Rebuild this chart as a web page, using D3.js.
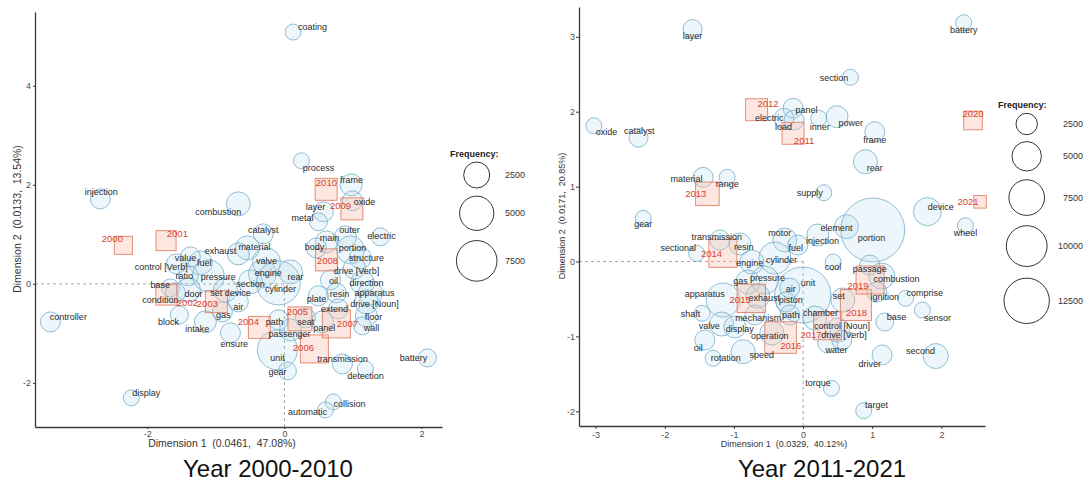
<!DOCTYPE html>
<html>
<head>
<meta charset="utf-8">
<script src="https://cdn.jsdelivr.net/npm/d3@7"></script>
<style>
  body { margin: 0; background: #fff; }
  svg text { font-family: "Liberation Sans", Arial, sans-serif; }
</style>
</head>
<body>
<svg id="chart" width="1088" height="484"></svg>
<script>
// Correspondence-analysis maps of patent terms and filing years.
// Term rows: [term, dim1, dim2, frequency, label dim1, label dim2]
const termsEarly = [
  ["coating", 0.127, 5.085, 625, 0.409, 5.19],
  ["process", 0.248, 2.485, 625, 0.496, 2.343],
  ["injection", -2.686, 1.717, 1225, -2.672, 1.859],
  ["combustion", -0.672, 1.616, 2025, -0.964, 1.455],
  ["frame", 0.974, 2.0, 1600, 0.978, 2.101],
  ["oxide", 0.993, 1.677, 1225, 1.168, 1.657],
  ["layer", 0.569, 1.455, 1225, 0.453, 1.556],
  ["metal", 0.496, 1.253, 900, 0.263, 1.333],
  ["catalyst", -0.307, 1.010, 1225, -0.307, 1.091],
  ["material", -0.540, 0.727, 2025, -0.438, 0.747],
  ["exhaust", -0.672, 0.606, 1600, -0.934, 0.667],
  ["valve", -0.263, 0.444, 3025, -0.263, 0.465],
  ["engine", -0.321, 0.202, 3025, -0.234, 0.222],
  ["section", -0.496, 0.040, 2025, -0.496, 0.0],
  ["rear", 0.088, 0.242, 2025, 0.161, 0.141],
  ["cylinder", -0.088, 0.020, 9025, -0.058, -0.101],
  ["fuel", -1.226, 0.424, 2025, -1.168, 0.424],
  ["value", -1.372, 0.545, 1225, -1.445, 0.525],
  ["control [Verb]", -1.577, 0.404, 1225, -1.796, 0.343],
  ["ratio", -1.401, 0.162, 1225, -1.460, 0.162],
  ["pressure", -1.109, 0.162, 4225, -0.964, 0.141],
  ["base", -1.664, -0.081, 900, -1.810, -0.020],
  ["condition", -1.591, -0.182, 1225, -1.810, -0.323],
  ["door", -1.401, -0.121, 2025, -1.328, -0.202],
  ["set device", -0.861, -0.121, 2025, -0.788, -0.182],
  ["air", -0.672, -0.364, 1225, -0.672, -0.465],
  ["gas", -0.905, -0.566, 1225, -0.891, -0.626],
  ["block", -1.533, -0.626, 900, -1.693, -0.768],
  ["intake", -1.153, -0.768, 1600, -1.270, -0.909],
  ["controller", -3.416, -0.768, 1225, -3.153, -0.667],
  ["display", -2.234, -2.303, 625, -2.015, -2.202],
  ["ensure", -0.788, -0.990, 1225, -0.730, -1.212],
  ["path", -0.088, -0.727, 1225, -0.146, -0.768],
  ["passenger", 0.088, -0.929, 1600, 0.073, -1.010],
  ["seat", 0.307, -0.687, 1225, 0.310, -0.768],
  ["panel", 0.555, -0.768, 1600, 0.580, -0.889],
  ["unit", -0.102, -1.333, 7225, -0.102, -1.495],
  ["gear", 0.044, -1.758, 900, -0.102, -1.778],
  ["transmission", 0.847, -1.616, 1225, 0.847, -1.515],
  ["detection", 1.182, -1.717, 625, 1.182, -1.859],
  ["battery", 2.088, -1.495, 900, 1.883, -1.495],
  ["collision", 0.715, -2.384, 625, 0.949, -2.424],
  ["automatic", 0.599, -2.545, 625, 0.336, -2.586],
  ["outer", 0.891, 0.949, 1600, 0.949, 1.091],
  ["main", 0.613, 0.848, 1600, 0.657, 0.929],
  ["body", 0.467, 0.727, 1225, 0.438, 0.747],
  ["portion", 0.964, 0.687, 3025, 0.993, 0.727],
  ["electric", 1.401, 0.949, 900, 1.416, 0.970],
  ["structure", 1.109, 0.525, 1600, 1.197, 0.525],
  ["drive [Verb]", 1.022, 0.323, 1600, 1.051, 0.263],
  ["oil", 0.672, 0.081, 1225, 0.715, 0.061],
  ["direction", 1.139, 0.020, 2025, 1.197, 0.020],
  ["resin", 0.759, -0.182, 1225, 0.803, -0.202],
  ["apparatus", 1.255, -0.182, 2025, 1.314, -0.182],
  ["plate", 0.496, -0.242, 1225, 0.467, -0.303],
  ["drive [Noun]", 1.197, -0.364, 2025, 1.314, -0.404],
  ["extend", 0.788, -0.505, 1225, 0.730, -0.505],
  ["floor", 1.197, -0.646, 1600, 1.299, -0.667],
  ["wall", 1.139, -0.848, 900, 1.270, -0.889]
];

// Year rows: [year, dim1, dim2, frequency, label dim1, label dim2]
const yearsEarly = [
  ["2000", -2.350, 0.778, 1300, -2.511, 0.909],
  ["2001", -1.727, 0.873, 1720, -1.562, 1.010],
  ["2002", -1.723, -0.216, 1960, -1.416, -0.384],
  ["2003", -0.993, -0.358, 2210, -1.124, -0.404],
  ["2004", -0.365, -0.879, 2210, -0.526, -0.768],
  ["2005", 0.226, -0.707, 2760, 0.190, -0.566],
  ["2006", 0.438, -1.313, 4100, 0.277, -1.293],
  ["2007", 0.759, -0.808, 4100, 0.920, -0.808],
  ["2008", 0.613, 0.485, 2210, 0.628, 0.465],
  ["2009", 0.985, 1.515, 2210, 0.818, 1.576],
  ["2010", 0.609, 1.909, 2210, 0.613, 2.040]
];

const termsLate = [
  ["layer", -1.598, 3.104, 1920, -1.598, 3.015],
  ["panel", -0.145, 2.045, 2152, 0.049, 2.023],
  ["electric", -0.275, 1.912, 2152, -0.491, 1.920],
  ["load", -0.130, 1.889, 2152, -0.283, 1.796],
  ["inner", 0.227, 1.912, 1302, 0.241, 1.800],
  ["power", 0.491, 1.933, 2657, 0.689, 1.845],
  ["frame", 1.036, 1.733, 2152, 1.036, 1.622],
  ["section", 0.685, 2.459, 1302, 0.448, 2.454],
  ["battery", 2.322, 3.188, 1302, 2.322, 3.091],
  ["rear", 0.902, 1.332, 3215, 1.036, 1.244],
  ["supply", 0.299, 0.919, 1302, 0.097, 0.911],
  ["device", 1.798, 0.665, 4490, 1.990, 0.732],
  ["oxide", -3.025, 1.813, 1302, -2.841, 1.725],
  ["catalyst", -2.379, 1.653, 1920, -2.370, 1.742],
  ["material", -1.445, 1.124, 2152, -1.685, 1.105],
  ["range", -1.098, 1.124, 1302, -1.098, 1.031],
  ["gear", -2.312, 0.577, 1302, -2.312, 0.501],
  ["sectional", -1.540, 0.109, 1302, -1.806, 0.176],
  ["transmission", -1.204, 0.287, 2152, -1.247, 0.327],
  ["resin", -0.915, 0.234, 2657, -0.857, 0.194],
  ["apparatus", -1.156, -0.514, 6802, -1.421, -0.434],
  ["shaft", -1.460, -0.692, 1302, -1.627, -0.701],
  ["valve", -1.179, -0.834, 3215, -1.358, -0.857],
  ["display", -0.987, -0.874, 2657, -0.915, -0.901],
  ["oil", -1.421, -1.048, 2152, -1.517, -1.151],
  ["rotation", -1.301, -1.292, 1302, -1.117, -1.288],
  ["speed", -0.867, -1.204, 3215, -0.597, -1.248],
  ["motor", -0.264, 0.287, 3215, -0.337, 0.377],
  ["fuel", -0.077, 0.220, 2152, -0.105, 0.184],
  ["injection", 0.212, 0.354, 2657, 0.280, 0.274],
  ["element", 0.627, 0.465, 3215, 0.483, 0.443],
  ["portion", 1.007, 0.421, 25500, 0.988, 0.310],
  ["cylinder", -0.409, 0.047, 5978, -0.312, 0.020],
  ["engine", -0.741, -0.007, 3215, -0.770, -0.016],
  ["cool", 0.434, -0.007, 1302, 0.434, -0.069],
  ["passage", 0.964, -0.047, 2152, 0.964, -0.100],
  ["combustion", 1.137, -0.194, 3826, 1.350, -0.234],
  ["ignition", 1.065, -0.407, 2152, 1.181, -0.470],
  ["set", 0.574, -0.514, 3215, 0.516, -0.461],
  ["unit", -0.004, -0.447, 19370, 0.072, -0.283],
  ["gas", -0.799, -0.274, 3215, -0.905, -0.260],
  ["pressure", -0.553, -0.247, 4490, -0.514, -0.216],
  ["air", -0.192, -0.354, 2152, -0.178, -0.371],
  ["piston", -0.250, -0.541, 2152, -0.178, -0.514],
  ["exhaust", -0.655, -0.461, 3215, -0.560, -0.491],
  ["mechanism", -0.698, -0.714, 2152, -0.650, -0.758],
  ["path", -0.192, -0.714, 2152, -0.178, -0.714],
  ["chamber", 0.169, -0.754, 3215, 0.251, -0.684],
  ["operation", -0.452, -0.955, 3215, -0.481, -0.995],
  ["control [Noun]", 0.501, -0.915, 3215, 0.564, -0.861],
  ["drive [Verb]", 0.559, -1.048, 2152, 0.590, -0.981],
  ["water", 0.357, -1.088, 2152, 0.483, -1.182],
  ["base", 1.181, -0.808, 1700, 1.350, -0.737],
  ["driver", 1.142, -1.248, 2152, 0.964, -1.369],
  ["second", 1.918, -1.262, 3514, 1.697, -1.191],
  ["comprise", 1.484, -0.491, 1302, 1.759, -0.425],
  ["sensor", 1.725, -0.648, 1302, 1.942, -0.758],
  ["wheel", 2.347, 0.478, 1302, 2.347, 0.385],
  ["torque", 0.410, -1.693, 1302, 0.217, -1.626],
  ["target", 0.877, -1.992, 1302, 1.061, -1.916]
];

const yearsLate = [
  ["2011", -0.145, 1.712, 3450, 0.014, 1.613],
  ["2012", -0.673, 2.027, 3450, -0.506, 2.112],
  ["2013", -1.384, 0.904, 4020, -1.551, 0.911],
  ["2014", -1.160, 0.109, 5820, -1.324, 0.109],
  ["2015", -0.749, -0.491, 5980, -0.910, -0.514],
  ["2016", -0.325, -1.015, 7500, -0.178, -1.124],
  ["2017", 0.354, -0.858, 5820, 0.115, -0.981],
  ["2018", 0.764, -0.581, 7230, 0.772, -0.678],
  ["2019", 0.968, -0.247, 5820, 0.795, -0.327],
  ["2020", 2.457, 1.883, 2400, 2.457, 1.969],
  ["2021", 2.558, 0.797, 990, 2.384, 0.798]
];

const ticksEarlyX = [-2, 0, 2];
const ticksEarlyY = [-2, 0, 2, 4];
const ticksLateX = [-3, -2, -1, 0, 1, 2];
const ticksLateY = [-2, -1, 0, 1, 2, 3];

const legendBreaksEarly = [2500, 5000, 7500];
const legendBreaksLate = [2500, 5000, 7500, 10000, 12500];

const panels = [
  {
    terms: termsEarly, years: yearsEarly,
    xTicks: ticksEarlyX, yTicks: ticksEarlyY,
    xDomain: [-3.64, 2.30], yDomain: [-2.89, 5.49],
    xRange: [35, 442], yRange: [427, 12],
    sizeRange: [3, 23],
    tickX: [2, 1.5], tickY: [2, 2],
    xTitle: "Dimension 1  (0.0461,  47.08%)", xTitlePos: [222, 443.5], xTitleSize: 10.5,
    yTitle: "Dimension 2  (0.0133,  13.54%)", yTitlePos: [17.3, 219], yTitleSize: 10.5,
    legend: { breaks: legendBreaksEarly, cx: 476.7, firstY: 175, titleX: 450, titleY: 157, labelX: 505, anchor: "start" },
    caption: "Year 2000-2010", captionPos: [268, 477]
  },
  {
    terms: termsLate, years: yearsLate,
    xTicks: ticksLateX, yTicks: ticksLateY,
    xDomain: [-3.24, 2.63], yDomain: [-2.196, 3.398],
    xRange: [579, 985], yRange: [426, 7],
    sizeRange: [1, 20.4],
    tickX: [3, 3], tickY: [3, 1],
    xTitle: "Dimension 1  (0.0329,  40.12%)", xTitlePos: [784, 443.5], xTitleSize: 9,
    yTitle: "Dimension 2  (0.0171,  20.85%)", yTitlePos: [561.7, 216], yTitleSize: 9,
    legend: { breaks: legendBreaksLate, cx: 1026.7, firstY: 124, titleX: 998, titleY: 108, labelX: 1083, anchor: "end" },
    caption: "Year 2011-2021", captionPos: [822, 477]
  }
];

const svg = d3.select("#chart");

function drawPanel(p) {
  const g = svg.append("g");
  const x = d3.scaleLinear().domain(p.xDomain).range(p.xRange);
  const y = d3.scaleLinear().domain(p.yDomain).range(p.yRange);
  const r = d3.scaleSqrt().domain([0, 10000]).range(p.sizeRange);
  // square markers are area-matched to the circle of the same size
  const half = f => r(f) * Math.sqrt(Math.PI) / 2;

  // dashed guides from the axes to the origin
  g.append("line")
    .attr("x1", p.xRange[0]).attr("x2", x(0))
    .attr("y1", y(0)).attr("y2", y(0))
    .attr("stroke", "#8c8c8c").attr("stroke-width", 0.8).attr("stroke-dasharray", "3,3");
  g.append("line")
    .attr("x1", x(0)).attr("x2", x(0))
    .attr("y1", p.yRange[0]).attr("y2", y(0))
    .attr("stroke", "#8c8c8c").attr("stroke-width", 0.8).attr("stroke-dasharray", "3,3");

  // term bubbles
  g.append("g").selectAll("circle").data(p.terms).join("circle")
    .attr("cx", d => x(d[1])).attr("cy", d => y(d[2])).attr("r", d => r(d[3]))
    .attr("fill", "#add8e6").attr("fill-opacity", 0.22)
    .attr("stroke", "#6fa8c8").attr("stroke-opacity", 0.75).attr("stroke-width", 1);

  // year squares
  g.append("g").selectAll("rect").data(p.years).join("rect")
    .attr("x", d => x(d[1]) - half(d[3])).attr("y", d => y(d[2]) - half(d[3]))
    .attr("width", d => 2 * half(d[3])).attr("height", d => 2 * half(d[3]))
    .attr("fill", "#f8b9a6").attr("fill-opacity", 0.35)
    .attr("stroke", "#e07a62").attr("stroke-opacity", 0.85).attr("stroke-width", 1);

  // term labels
  g.append("g").selectAll("text").data(p.terms).join("text")
    .attr("x", d => x(d[4])).attr("y", d => y(d[5])).attr("dy", "0.35em")
    .attr("text-anchor", "middle").attr("font-size", 9).attr("fill", "#2b2b2b")
    .text(d => d[0]);

  // year labels
  g.append("g").selectAll("text").data(p.years).join("text")
    .attr("x", d => x(d[4])).attr("y", d => y(d[5])).attr("dy", "0.35em")
    .attr("text-anchor", "middle").attr("font-size", 9.5).attr("fill", "#d9412e")
    .text(d => d[0]);

  // axes
  const fmt = d => String(d);
  const xa = g.append("g").attr("transform", `translate(0,${p.yRange[0]})`)
    .call(d3.axisBottom(x).tickValues(p.xTicks).tickFormat(fmt)
      .tickSize(p.tickX[0]).tickSizeOuter(0).tickPadding(p.tickX[1]));
  const ya = g.append("g").attr("transform", `translate(${p.xRange[0]},0)`)
    .call(d3.axisLeft(y).tickValues(p.yTicks).tickFormat(fmt)
      .tickSize(p.tickY[0]).tickSizeOuter(0).tickPadding(p.tickY[1]));
  [xa, ya].forEach(a => {
    a.select(".domain").attr("stroke", "#3a3a3a").attr("stroke-width", 1.3);
    a.selectAll(".tick line").attr("stroke", "#3a3a3a");
    a.selectAll(".tick text").attr("fill", "#4d4d4d").attr("font-size", 9)
      .attr("font-family", "'Liberation Sans', Arial, sans-serif");
  });

  // axis titles
  g.append("text").attr("x", p.xTitlePos[0]).attr("y", p.xTitlePos[1]).attr("dy", "0.35em")
    .attr("text-anchor", "middle").attr("font-size", p.xTitleSize).attr("fill", "#333")
    .style("white-space", "pre").text(p.xTitle);
  g.append("text").attr("transform", `translate(${p.yTitlePos[0]},${p.yTitlePos[1]}) rotate(-90)`)
    .attr("dy", "0.35em")
    .attr("text-anchor", "middle").attr("font-size", p.yTitleSize).attr("fill", "#333")
    .style("white-space", "pre").text(p.yTitle);

  // size legend
  const L = p.legend;
  g.append("text").attr("x", L.titleX).attr("y", L.titleY)
    .attr("font-size", 9).attr("font-weight", "bold").attr("fill", "#222").text("Frequency:");
  let cy = L.firstY, prev = null;
  const keys = L.breaks.map(b => {
    const rr = r(b);
    if (prev !== null) cy += 1.27 * (prev + rr);
    prev = rr;
    return { b, rr, cy };
  });
  const lg = g.append("g");
  lg.selectAll("circle").data(keys).join("circle")
    .attr("cx", L.cx).attr("cy", d => d.cy).attr("r", d => d.rr)
    .attr("fill", "none").attr("stroke", "#333").attr("stroke-width", 1);
  lg.selectAll("text").data(keys).join("text")
    .attr("x", L.labelX).attr("y", d => d.cy).attr("dy", "0.35em")
    .attr("text-anchor", L.anchor).attr("font-size", 9).attr("fill", "#333")
    .text(d => d.b);

  // caption
  g.append("text").attr("x", p.captionPos[0]).attr("y", p.captionPos[1])
    .attr("text-anchor", "middle").attr("font-size", 24).attr("fill", "#111")
    .attr("font-family", "Carlito, Lato, 'Open Sans', sans-serif")
    .text(p.caption);
}

panels.forEach(drawPanel);
</script>
</body>
</html>
